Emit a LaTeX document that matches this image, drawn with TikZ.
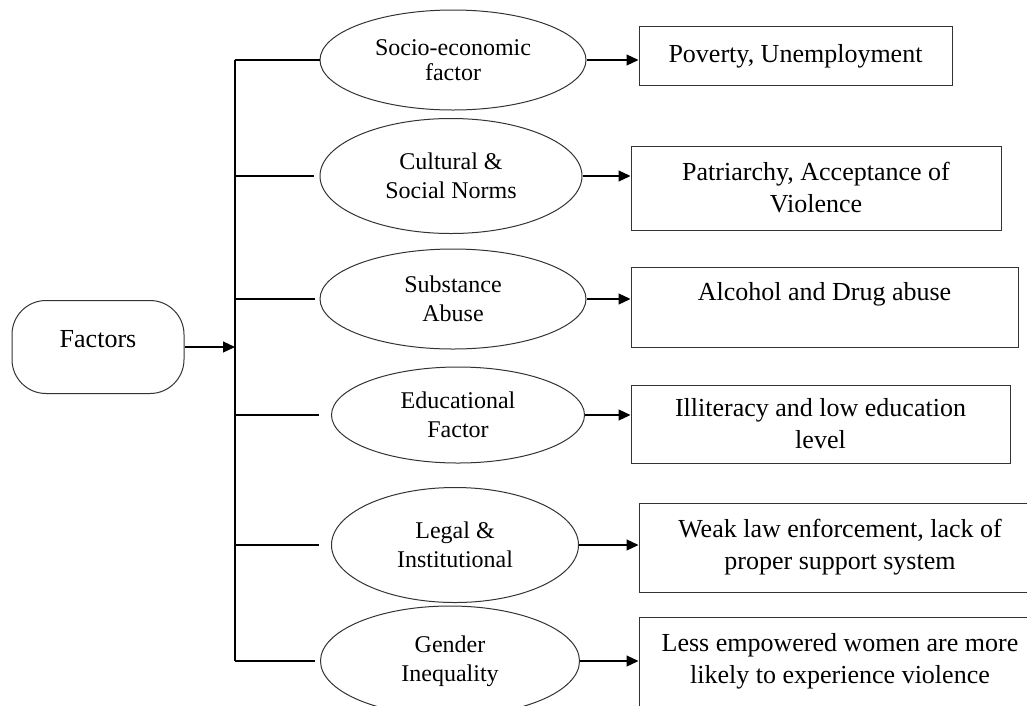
\documentclass[tikz,border=0pt]{standalone}
\usepackage{fontspec}
\setmainfont{Liberation Serif}
\usetikzlibrary{shapes.geometric,arrows.meta}

\tikzset{
  factor/.style={draw=black!80, line width=1pt, ellipse, inner sep=0pt, align=center, font=\fontsize{24}{29}\selectfont},
  effect/.style={draw=black!80, line width=1pt, rectangle, inner sep=0pt, align=center, font=\fontsize{26}{32}\selectfont},
  link/.style={draw=black, line width=1.1pt},
  arr/.style={link, -{Triangle[length=12pt,width=11pt]}},
}

\begin{document}
\begin{tikzpicture}[x=1pt, y=-1pt, line width=1.1pt]
  \useasboundingbox (0,0) rectangle (1027,705);
  \clip (0,0) rectangle (1027,705);
  % Root node.
  \node[draw=black!80, line width=1pt, rounded corners=34pt, minimum width=172pt, minimum height=93pt,
        inner sep=0pt, text height=20pt, text depth=20pt,
        font=\fontsize{26}{32}\selectfont] (F) at (98,347) {Factors};
  \coordinate (trunk) at (235,347);
  % Factor ellipses.
  \node[factor, minimum width=266pt, minimum height=100pt, font=\fontsize{24}{25}\selectfont] (soc) at (453,60) {Socio-economic\\factor};
  \node[factor, minimum width=262pt, minimum height=115pt] (cul) at (451,176) {Cultural \&\\Social Norms};
  \node[factor, minimum width=266pt, minimum height=100pt] (sub) at (453,299) {Substance\\Abuse};
  \node[factor, minimum width=253pt, minimum height=96pt] (edu) at (458,415) {Educational\\Factor};
  \node[factor, minimum width=247pt, minimum height=115pt] (leg) at (455,545) {Legal \&\\Institutional};
  \node[factor, minimum width=259pt, minimum height=110pt] (gen) at (450,661) {Gender\\Inequality};
  % Effect boxes.
  \node[effect, minimum width=313pt, minimum height=59pt] (pov) at (795.5,56) {Poverty, Unemployment};
  \node[effect, minimum width=370pt, minimum height=84pt] (pat) at (816,188) {Patriarchy, Acceptance of\\Violence};
  \node[effect, minimum width=387pt, minimum height=80pt] (alc) at (824.5,307) {Alcohol and Drug abuse\\\mbox{}};
  \node[effect, minimum width=379pt, minimum height=78pt] (ill) at (820.5,424) {Illiteracy and low education\\level};
  \node[effect, minimum width=402pt, minimum height=89pt] (law) at (840,547.5) {Weak law enforcement, lack of\\proper support system};
  \node[effect, minimum width=402pt, minimum height=89pt] (emp) at (840,661.5) {Less empowered women are more\\likely to experience violence};
  % Connectors.
  \draw[arr] (F.east) -- (trunk);
  \draw[link] (soc.west -| trunk) -- (gen.west -| trunk);
  \foreach \e/\g in {soc/0,cul/6,sub/5,edu/12,leg/12,gen/5}
    \draw[link, shorten >=\g pt] (\e.west -| trunk) -- (\e.west);
  \foreach \e/\b in {soc/pov,cul/pat,sub/alc,edu/ill,leg/law,gen/emp}
    \draw[arr] (\e.east) -- (\e.east -| \b.west);
\end{tikzpicture}
\end{document}
